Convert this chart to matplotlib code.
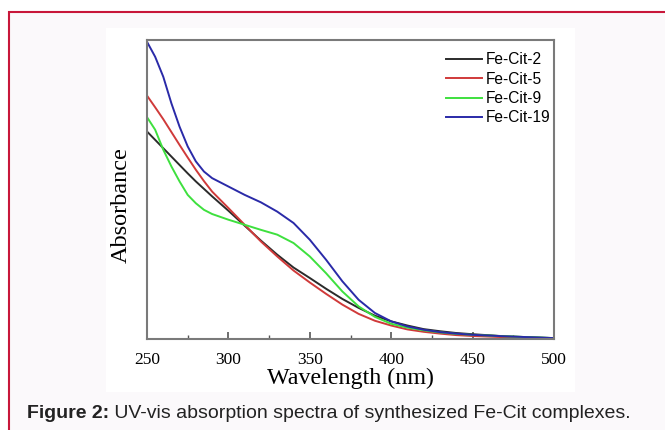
import matplotlib
matplotlib.use("Agg")
import matplotlib.pyplot as plt
from matplotlib.patches import Rectangle
from matplotlib.transforms import offset_copy

# wavelength grid (nm) and absorbance (arbitrary units)
wl = [250, 255, 260, 265, 270, 275, 280, 285, 290, 300, 310, 320, 330, 340,
      350, 360, 370, 380, 390, 400, 410, 420, 430, 440, 450, 470, 500]

fe_cit_2 = [0.694, 0.666, 0.638, 0.610, 0.582, 0.554, 0.527, 0.502, 0.477, 0.429, 0.379, 0.329, 0.282, 0.239,
            0.204, 0.168, 0.134, 0.104, 0.078, 0.059, 0.045, 0.033, 0.026, 0.020, 0.016, 0.009, 0.003]
fe_cit_5 = [0.814, 0.775, 0.735, 0.692, 0.649, 0.607, 0.566, 0.528, 0.493, 0.438, 0.382, 0.326, 0.276, 0.229,
            0.189, 0.151, 0.115, 0.084, 0.061, 0.045, 0.032, 0.024, 0.018, 0.013, 0.010, 0.006, 0.002]
fe_cit_9 = [0.742, 0.700, 0.633, 0.577, 0.527, 0.482, 0.454, 0.432, 0.418, 0.399, 0.382, 0.365, 0.349, 0.321,
            0.276, 0.220, 0.159, 0.109, 0.074, 0.051, 0.038, 0.029, 0.022, 0.017, 0.014, 0.009, 0.003]
fe_cit_19 = [0.994, 0.944, 0.877, 0.788, 0.710, 0.644, 0.594, 0.560, 0.538, 0.510, 0.482, 0.457, 0.426, 0.388,
             0.332, 0.265, 0.193, 0.131, 0.087, 0.059, 0.042, 0.031, 0.023, 0.018, 0.014, 0.009, 0.003]

series = [("Fe-Cit-2", fe_cit_2, "#2b2b2b"),
          ("Fe-Cit-5", fe_cit_5, "#d03a3a"),
          ("Fe-Cit-9", fe_cit_9, "#3ee03e"),
          ("Fe-Cit-19", fe_cit_19, "#2a2aa8")]

fig = plt.figure(figsize=(6.65, 4.3), dpi=100)
fig.patch.set_facecolor("white")

# page panel with red border, white picture area
fig.patches.append(Rectangle((9/665, -0.1), 1.0, (430-12)/430 + 0.1, transform=fig.transFigure,
                             facecolor="#fbf9fb", edgecolor="#c8173a", lw=1.5, zorder=0))
fig.patches.append(Rectangle((106/665, (430-392)/430), (575-106)/665, (392-28)/430,
                             transform=fig.transFigure, facecolor="white", edgecolor="none", zorder=1))

ax = fig.add_axes([147/665, (430-339)/430, (554-147)/665, (339-40)/430])
ax.set_zorder(2)
for name, vals, col in series:
    ax.plot(wl, vals, color=col, lw=1.4, label=name)

ax.set_xlim(250, 500)
ax.set_ylim(0, 1.0)
ax.set_xticks(range(250, 501, 50))
ax.set_xticks(range(275, 500, 50), minor=True)
ax.set_yticks([])
ax.tick_params(axis="x", which="major", direction="in", length=5, width=1.2, color="#555555",
               labelsize=12.5, pad=9)
ax.tick_params(axis="x", which="minor", direction="in", length=3, width=1.0, color="#555555")
for lbl in ax.get_xticklabels():
    lbl.set_fontfamily("Liberation Serif")
for s in ax.spines.values():
    s.set_color("#7a7a7a")
    s.set_linewidth(1.5)

ax.set_xlabel("Wavelength (nm)", fontfamily="Liberation Serif", fontsize=17.3, labelpad=0)
ax.set_ylabel("Absorbance", fontfamily="Liberation Serif", fontsize=17.5)
ax.yaxis.set_label_coords(-0.037, 0.448)

leg = ax.legend(loc="upper right", frameon=False, prop={"family": "Liberation Sans", "size": 11.2},
                handlelength=2.3, handletextpad=0.25, labelspacing=0.28,
                borderaxespad=0.2, bbox_to_anchor=(1.015, 0.99))

# caption: bold label followed by normal text
cy = 1 - 413/430
t1 = fig.text(27/665, cy, "Figure 2:", fontsize=14, fontweight="bold", va="center", ha="left",
              family="Liberation Sans", color="#222222")
fig.canvas.draw()
w = t1.get_window_extent().width
fig.text(27/665, cy, " UV-vis absorption spectra of synthesized Fe-Cit complexes.",
         fontsize=14, va="center", ha="left", family="Liberation Sans", color="#222222",
         transform=offset_copy(fig.transFigure, fig=fig, x=w, y=0, units="dots"))

fig.savefig("out.png", dpi=100)
